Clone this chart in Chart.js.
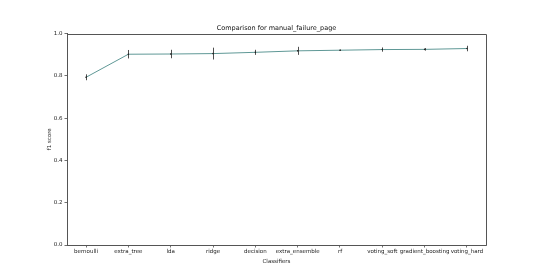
<!DOCTYPE html>
<html>
<head>
<meta charset="utf-8">
<script src="https://cdn.jsdelivr.net/npm/chart.js@4/dist/chart.umd.min.js"></script>
<style>
  html, body { margin: 0; padding: 0; background: #fff; }
  #wrap { width: 540px; height: 276px; }
</style>
</head>
<body>
<div id="wrap"><canvas id="scoreChart" width="540" height="276"></canvas></div>
<script>
// 分類器ごとの f1 スコア（平均と誤差）
const classifiers = ['bernoulli', 'extra_tree', 'lda', 'ridge', 'decision', 'extra_ensemble', 'rf', 'voting_soft', 'gradient_boosting', 'voting_hard'];
const f1Means = [0.793, 0.902, 0.903, 0.905, 0.911, 0.918, 0.921, 0.924, 0.925, 0.929];
const f1Errors = [0.014, 0.020, 0.020, 0.028, 0.012, 0.019, 0.003, 0.010, 0.006, 0.013];
const yTicks = [0, 0.2, 0.4, 0.6, 0.8, 1.0];
const chartTitle = 'Comparison for manual_failure_page';

const FONT = 'DejaVu Sans';

// 誤差棒を描くプラグイン
const errorBarPlugin = {
    id: 'errorBars',
    afterDatasetsDraw(chart) {
        const ctx = chart.ctx;
        const xs = chart.scales.x;
        const ys = chart.scales.y;
        ctx.save();
        ctx.strokeStyle = '#222';
        ctx.lineWidth = 0.8;
        f1Means.forEach((m, i) => {
            const px = Math.round(xs.getPixelForValue(i)) + 0.5;
            ctx.beginPath();
            ctx.moveTo(px, ys.getPixelForValue(m - f1Errors[i]));
            ctx.lineTo(px, ys.getPixelForValue(m + f1Errors[i]));
            ctx.stroke();
        });
        ctx.restore();
    }
};

// 枠線（上・右）とプロット領域中央のタイトル
const framePlugin = {
    id: 'frame',
    afterDraw(chart) {
        const a = chart.chartArea;
        const c = chart.ctx;
        c.save();
        c.strokeStyle = '#555';
        c.lineWidth = 1;
        c.beginPath();
        c.moveTo(a.left, Math.round(a.top) + 0.5);
        c.lineTo(Math.round(a.right) + 0.5, Math.round(a.top) + 0.5);
        c.lineTo(Math.round(a.right) + 0.5, a.bottom);
        c.stroke();
        c.fillStyle = '#111';
        c.font = '6.5px "' + FONT + '"';
        c.textAlign = 'center';
        c.textBaseline = 'middle';
        c.fillText(chartTitle, (a.left + a.right) / 2, a.top - 5.5);
        c.restore();
    }
};

const ctx = document.getElementById('scoreChart').getContext('2d');
new Chart(ctx, {
    type: 'line',
    data: {
        datasets: [{
            data: f1Means.map((v, i) => ({ x: i, y: v })),
            borderColor: '#5f9896',
            borderWidth: 1,
            pointRadius: 0.8,
            pointBackgroundColor: '#222',
            pointBorderWidth: 0,
            tension: 0
        }]
    },
    options: {
        responsive: false,
        animation: false,
        layout: { padding: { left: 0, right: 54, top: 33.5, bottom: 0 } },
        plugins: {
            legend: { display: false },
            tooltip: { enabled: false },
            title: { display: false }
        },
        scales: {
            x: {
                type: 'linear',
                min: -0.45,
                max: 9.45,
                afterBuildTicks: (scale) => {
                    scale.ticks = classifiers.map((c, i) => ({ value: i }));
                },
                afterFit: (scale) => { scale.height = 31; },
                ticks: {
                    autoSkip: false,
                    maxRotation: 0,
                    padding: 1,
                    color: '#222',
                    font: { family: FONT, size: 5.5 },
                    callback: (v) => classifiers[v]
                },
                grid: { drawOnChartArea: false, tickLength: 2.5, color: '#333', lineWidth: 0.7 },
                border: { color: '#555', width: 1 },
                title: {
                    display: true,
                    text: 'Classifiers',
                    color: '#222',
                    font: { family: FONT, size: 5.5 },
                    padding: { top: 1, bottom: 11 }
                }
            },
            y: {
                min: 0,
                max: 1,
                afterBuildTicks: (scale) => {
                    scale.ticks = yTicks.map(v => ({ value: v }));
                },
                afterFit: (scale) => { scale.width = 67; },
                ticks: {
                    padding: 2,
                    color: '#222',
                    font: { family: FONT, size: 5.5 },
                    callback: (v) => v.toFixed(1)
                },
                grid: { drawOnChartArea: false, tickLength: 2.5, color: '#333', lineWidth: 0.7 },
                border: { color: '#555', width: 1 },
                title: {
                    display: true,
                    text: 'f1 score',
                    color: '#222',
                    font: { family: FONT, size: 5.5 },
                    padding: { top: 46, bottom: 0 }
                }
            }
        }
    },
    plugins: [errorBarPlugin, framePlugin]
});
</script>
</body>
</html>
